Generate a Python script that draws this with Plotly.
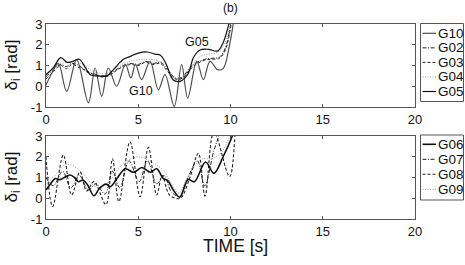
import plotly.graph_objects as go

W, H = 465, 265

# ---------------- data ----------------
x_ticks = [0, 5, 10, 15, 20]
y_ticks = [-1, 0, 1, 2, 3]
y_tick_text = ["-1", "0", "1", "2", "3"]

top_names = ["G10", "G02", "G03", "G04", "G05"]
bottom_names = ["G06", "G07", "G08", "G09"]

# top panel
g10_t = [0.0, 0.3, 0.67, 1.12, 1.66, 2.3, 2.66, 3.02, 3.38, 3.83, 4.3, 4.6, 4.85, 5.18, 5.64, 6.09, 6.45, 6.95, 7.35, 7.68, 8.17, 8.53, 8.89, 9.3, 9.6, 9.95, 10.2, 10.4]
g10_y = [0.05, 0.6, 1.1, -0.25, 1.28, -0.8, 0.88, -0.49, 0.88, 0.0, 1.05, 0.4, 1.05, 0.32, 1.2, -0.17, 0.56, -0.97, 1.04, -0.57, 1.2, 0.32, 1.2, 0.8, 0.85, 2.0, 3.3, 4.5]

g05_t = [0.0, 0.4, 0.8, 1.15, 1.45, 1.8, 2.1, 2.4, 2.8, 3.3, 3.7, 4.2, 4.6, 5.0, 5.5, 5.9, 6.2, 6.5, 6.9, 7.3, 7.7, 8.0, 8.35, 8.8, 9.3, 9.6, 9.85, 10.05, 10.3]
g05_y = [0.55, 0.9, 1.38, 1.15, 1.2, 1.3, 0.95, 0.55, 0.5, 0.5, 0.85, 1.3, 1.45, 1.6, 1.65, 1.55, 1.5, 1.1, 0.3, 0.25, 0.6, 1.4, 1.75, 1.78, 1.7, 2.1, 2.8, 3.5, 4.5]

g03_t = [0.0, 0.4, 0.8, 1.1, 1.4, 1.8, 2.2, 2.6, 3.0, 3.4, 3.8, 4.2, 4.6, 5.0, 5.4, 5.8, 6.2, 6.6, 7.0, 7.4, 7.8, 8.2, 8.6, 9.0, 9.4, 9.7, 10.0, 10.2]
g03_y = [0.35, 0.7, 1.0, 0.85, 1.05, 0.9, 0.75, 0.55, 0.45, 0.5, 0.75, 0.95, 1.05, 1.0, 1.15, 1.05, 1.1, 0.7, 0.35, 0.4, 0.8, 1.1, 1.25, 1.3, 1.35, 1.7, 2.8, 4.0]

g02_t = [0.0, 0.4, 0.8, 1.1, 1.4, 1.8, 2.2, 2.6, 3.0, 3.4, 3.8, 4.2, 4.6, 5.0, 5.4, 5.8, 6.2, 6.6, 7.0, 7.4, 7.8, 8.2, 8.6, 9.0, 9.4, 9.7, 10.0, 10.2]
g02_y = [0.45, 0.8, 1.05, 0.95, 1.1, 1.0, 0.7, 0.6, 0.5, 0.55, 0.8, 1.0, 1.1, 1.05, 1.2, 1.1, 1.15, 0.8, 0.4, 0.45, 0.9, 1.15, 1.3, 1.35, 1.4, 1.8, 2.9, 4.0]

g04_t = [0.0, 0.4, 0.8, 1.2, 1.6, 2.0, 2.4, 2.8, 3.2, 3.6, 4.0, 4.4, 4.8, 5.2, 5.6, 6.0, 6.4, 6.8, 7.2, 7.6, 8.0, 8.4, 8.8, 9.2, 9.6, 9.9, 10.1]
g04_y = [0.6, 0.85, 1.1, 1.15, 1.2, 1.05, 0.8, 0.65, 0.6, 0.75, 1.0, 1.15, 1.25, 1.3, 1.3, 1.25, 1.1, 0.6, 0.3, 0.55, 1.1, 1.45, 1.55, 1.6, 1.9, 2.7, 3.8]

# bottom panel
g06_t = [0.0, 0.25, 0.5, 0.75, 1.0, 1.3, 1.55, 1.75, 2.0, 2.25, 2.6, 2.9, 3.25, 3.5, 3.85, 4.3, 4.75, 5.2, 5.65, 6.0, 6.35, 6.6, 6.9, 7.25, 7.7, 8.05, 8.65, 9.1, 9.6, 10.1, 10.4]
g06_y = [0.4, 0.7, 0.95, 0.9, 1.0, 1.12, 1.0, 0.8, 0.88, 0.65, 0.12, 0.48, 0.68, 0.56, 0.96, 1.42, 1.25, 1.48, 1.25, 1.42, 0.96, 0.85, 0.4, 0.05, 0.9, 0.8, 1.75, 1.2, 2.0, 3.0, 3.8]

g07_t = [0.0, 0.4, 0.9, 1.35, 1.8, 2.3, 2.7, 3.2, 3.6, 4.0, 4.5, 5.05, 5.5, 6.0, 6.4, 6.8, 7.25, 7.7, 8.2, 8.6, 9.1, 9.5, 9.8]
g07_y = [1.0, 0.6, 1.3, 0.5, 1.1, 0.4, 0.7, 0.2, 1.3, 0.5, 1.8, 0.8, 1.8, 0.7, 1.1, 0.3, 0.1, 1.0, 1.8, 0.6, 2.3, 3.3, 4.0]

g08_t = [0.0, 0.36, 0.94, 1.39, 1.84, 2.2, 2.6, 3.25, 3.6, 3.95, 4.55, 5.1, 5.55, 6.0, 6.3, 6.7, 7.27, 7.8, 8.26, 8.62, 9.1, 9.95, 10.3, 10.5]
g08_y = [2.0, -0.4, 2.08, 0.16, 1.28, 0.35, 0.8, -0.3, 1.9, -0.16, 2.72, 0.07, 2.45, 0.16, 1.1, 0.15, 0.0, 1.0, 2.17, 0.1, 3.2, 1.05, 3.5, 4.5]

g09_t = [0.0, 0.5, 1.0, 1.4, 1.8, 2.2, 2.6, 3.0, 3.5, 4.0, 4.5, 5.0, 5.5, 6.0, 6.4, 6.8, 7.2, 7.6, 8.0, 8.5, 9.0, 9.5, 9.9, 10.2]
g09_y = [0.7, 1.1, 1.6, 1.6, 1.35, 1.0, 0.6, 0.5, 0.9, 1.5, 1.85, 2.0, 1.85, 1.6, 1.3, 0.7, 0.25, 0.9, 1.5, 1.9, 1.9, 2.2, 2.9, 3.8]

# ---------------- styles ----------------
FONT = "Liberation Sans, Arial, Helvetica, sans-serif"
styles = {
    "G10": dict(color="#505050", width=1.2, dash="solid"),
    "G02": dict(color="#222222", width=1.0, dash="4px,1.5px,1px,1.5px"),
    "G03": dict(color="#222222", width=1.0, dash="3px,2px"),
    "G04": dict(color="#9a9a9a", width=1.0, dash="1px,1.5px"),
    "G05": dict(color="#111111", width=1.2, dash="solid"),
    "G06": dict(color="#111111", width=1.6, dash="solid"),
    "G07": dict(color="#222222", width=1.0, dash="4px,1.5px,1px,1.5px"),
    "G08": dict(color="#222222", width=1.1, dash="3px,2px"),
    "G09": dict(color="#9a9a9a", width=1.0, dash="1px,1.5px"),
}

top_series = {"G10": (g10_t, g10_y), "G02": (g02_t, g02_y), "G03": (g03_t, g03_y),
              "G04": (g04_t, g04_y), "G05": (g05_t, g05_y)}
bottom_series = {"G06": (g06_t, g06_y), "G07": (g07_t, g07_y),
                 "G08": (g08_t, g08_y), "G09": (g09_t, g09_y)}

fig = go.Figure()
draw_order_top = ["G04", "G02", "G03", "G10", "G05"]
for n in draw_order_top:
    t, y = top_series[n]
    fig.add_trace(go.Scatter(x=t, y=y, mode="lines", name=n, xaxis="x", yaxis="y",
                             line=dict(shape="spline", smoothing=1.0, **styles[n]),
                             showlegend=False, hoverinfo="skip"))
draw_order_bottom = ["G09", "G07", "G08", "G06"]
for n in draw_order_bottom:
    t, y = bottom_series[n]
    fig.add_trace(go.Scatter(x=t, y=y, mode="lines", name=n, xaxis="x2", yaxis="y2",
                             line=dict(shape="spline", smoothing=1.0, **styles[n]),
                             showlegend=False, hoverinfo="skip"))

# plot area geometry in pixels
PX_L, PX_R = 46, 415
TOP_T, TOP_B = 24, 107
BOT_T, BOT_B = 136, 219


def px(x):
    return x / W


def py(y):
    return 1 - y / H


axis_common = dict(showline=True, linecolor="#555555", linewidth=1, mirror="ticks",
                   ticks="inside", ticklen=3, tickcolor="#555555", showgrid=False,
                   zeroline=False, tickfont=dict(family=FONT, size=13, color="#111111"))

fig.update_layout(
    autosize=True, margin=dict(l=0, r=0, t=0, b=0, autoexpand=False),
    paper_bgcolor="white", plot_bgcolor="white",
    xaxis=dict(domain=[px(PX_L), px(PX_R)], range=[0, 20], tickvals=x_ticks, anchor="y", **axis_common),
    yaxis=dict(domain=[py(TOP_B), py(TOP_T)], range=[-1, 3], tickvals=y_ticks, ticktext=y_tick_text,
               anchor="x", **axis_common),
    xaxis2=dict(domain=[px(PX_L), px(PX_R)], range=[0, 20], tickvals=x_ticks, anchor="y2", **axis_common),
    yaxis2=dict(domain=[py(BOT_B), py(BOT_T)], range=[-1, 3], tickvals=y_ticks, ticktext=y_tick_text,
                anchor="x2", **axis_common),
    showlegend=False,
)


def label(text, x, y, size, **kw):
    d = dict(text=text, x=x, y=y, xref="paper", yref="paper", showarrow=False,
             xanchor="center", yanchor="middle", font=dict(family=FONT, size=size, color="#111"))
    d.update(kw)
    return d


annotations = [
    label("(b)", px(230.5), py(8.5), 12),
    label("TIME [s]", px(235), py(245.5), 17.5),
    label("δ<sub>i</sub> [rad]", px(12), py((TOP_T + TOP_B) / 2), 17, textangle=-90),
    label("δ<sub>i</sub> [rad]", px(12), py((BOT_T + BOT_B) / 2), 17, textangle=-90),
    dict(text="G05", x=8.2, y=2.15, xref="x", yref="y", showarrow=False, xanchor="center",
         yanchor="middle", font=dict(family=FONT, size=12.5, color="#111")),
    dict(text="G10", x=5.15, y=-0.23, xref="x", yref="y", showarrow=False, xanchor="center",
         yanchor="middle", font=dict(family=FONT, size=12.5, color="#111")),
]

shapes = []


def add_legend(names, box_top, box_bottom, first_row, step):
    shapes.append(dict(type="rect", xref="paper", yref="paper",
                       x0=px(420.5), x1=px(463.5), y0=py(box_bottom), y1=py(box_top),
                       line=dict(color="#555555", width=1), fillcolor="white"))
    for i, n in enumerate(names):
        yy = first_row + i * step
        st = styles[n]
        shapes.append(dict(type="line", xref="paper", yref="paper",
                           x0=px(422.5), x1=px(436), y0=py(yy), y1=py(yy),
                           line=dict(color=st["color"], width=st["width"], dash=st["dash"])))
        annotations.append(label(n, px(436.3), py(yy), 13.5, xanchor="left"))


add_legend(top_names, 23.5, 101.5, 33.3, 14.55)
add_legend(bottom_names, 135, 200, 144.3, 15.0)

fig.update_layout(annotations=annotations, shapes=shapes)
fig.write_html(
    "out.html",
    default_width="100vw", default_height="100vh",
    config={"displayModeBar": False, "responsive": True},
    post_script=("document.documentElement.style.margin='0';document.documentElement.style.overflow='hidden';"
                 "document.body.style.margin='0';document.body.style.padding='0';"
                 "document.body.style.overflow='hidden';"
                 "var gd=document.getElementById('{plot_id}');gd.style.width='100vw';gd.style.height='100vh';"
                 "Plotly.Plots.resize(gd);"),
)
